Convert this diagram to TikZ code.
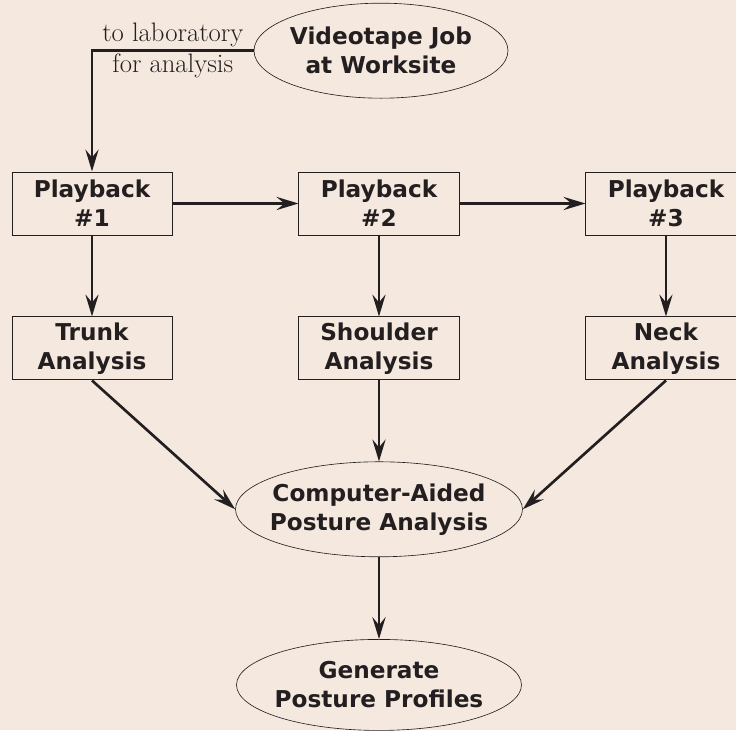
\documentclass[tikz,border=0pt]{standalone}
\usepackage{fontspec}
\newfontfamily\boxfont{DejaVu Sans}
\usetikzlibrary{shapes.geometric,arrows.meta,positioning}
\definecolor{paper}{RGB}{245,233,223}
\definecolor{ink}{RGB}{35,31,32}

\begin{document}
\begin{tikzpicture}[node distance=2.025cm,
  box/.style={draw=ink,line width=0.7pt,minimum width=4cm,minimum height=1.575cm,
    align=center,inner sep=0pt,text=ink,font=\boxfont\bfseries\fontsize{16.5}{20.6}\selectfont},
  oval/.style={ellipse,draw=ink,line width=0.45pt,minimum height=2.375cm,
    align=center,inner sep=0pt,inner xsep=-0.45cm,text=ink,font=\boxfont\bfseries\fontsize{16.5}{20.6}\selectfont},
  flow/.style={draw=ink,line width=1.9pt,-{Stealth[length=5.5mm,width=3.3mm,inset=2mm]}},
  note/.style={font=\fontsize{19}{22}\selectfont,text=ink,inner sep=1.5pt}]
\path[use as bounding box,fill=paper] (-2.3,5.0875) rectangle (16.1,-13.1625);
\node[box] (pb1) at (0,0) {Playback\\\#1};
\node[box] (pb2) [right=3.15cm of pb1] {Playback\\\#2};
\node[box] (pb3) [right=3.15cm of pb2] {Playback\\\#3};
\node[box] (trunk) [below=of pb1] {Trunk\\Analysis};
\node[box] (shoulder) [below=of pb2] {Shoulder\\Analysis};
\node[box] (neck) [below=of pb3] {Neck\\Analysis};
\node[oval,minimum width=6.35cm] (job) [above=1.825cm of pb2,xshift=0.05cm] {Videotape Job\\at Worksite};
\node[oval,minimum width=7.175cm] (cap) [below=of shoulder] {Computer-Aided\\Posture Analysis};
\node[oval,minimum width=7.125cm,minimum height=2.275cm] (gpp) [below=2.05cm of cap] {Generate\\Posture Profiles};
% videotape goes to the lab
\draw[flow] (job) -| node[note,pos=0.25,above] {to laboratory}
  node[note,pos=0.25,below] {for analysis} (pb1);
\draw[flow] (pb1) -- (pb2);
\draw[flow] (pb2) -- (pb3);
\draw[flow] (pb1) -- (trunk);
\draw[flow] (pb2) -- (shoulder);
\draw[flow] (pb3) -- (neck);
\draw[flow] (trunk.south) -- (cap.west);
\draw[flow] (shoulder) -- (cap);
\draw[flow] (neck.south) -- (cap.east);
\draw[flow] (cap) -- (gpp);
\end{tikzpicture}
\end{document}
